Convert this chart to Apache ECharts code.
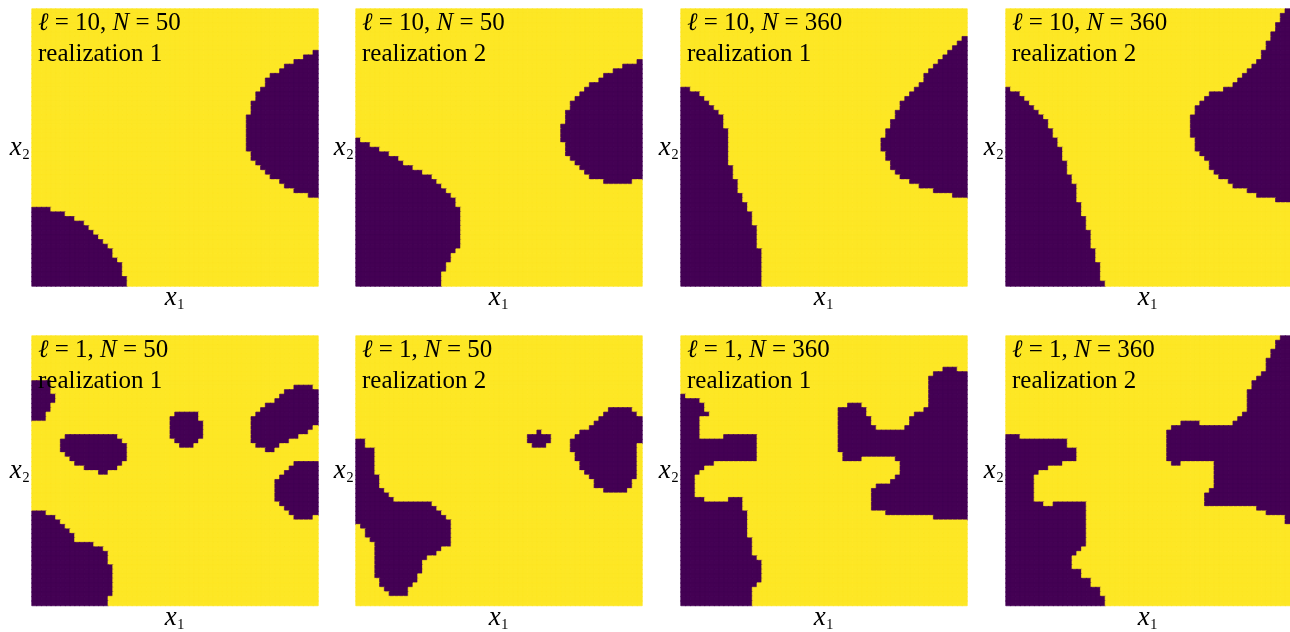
<!DOCTYPE html>
<html><head><meta charset="utf-8">
<script src="https://cdn.jsdelivr.net/npm/echarts@6/dist/echarts.min.js"></script>
<style>html,body{margin:0;padding:0;background:#fff}#c{width:1290px;height:632px}</style>
</head><body><div id="c"></div>
<script>
// ---- data ----
const GRID_N = 60; // cells per side
const cellIndex = Array.from({length: GRID_N}, (_, i) => i);
const lengthScales = [10, 10, 10, 10, 1, 1, 1, 1];
const sampleSizes = [50, 50, 360, 360, 50, 50, 360, 360];
const realizations = [1, 2, 1, 2, 1, 2, 1, 2];
const xLabel = 'x₁';
const yLabel = 'x₂';
const cellColors = ['#FDE725', '#440154']; // value 0 (yellow), value 1 (dark purple)

// each entry: [firstRow, lastRow, "dark column ranges [from-to)"]; rows counted from the top
const fieldA = [[9,9,"59-60"],[10,10,"57-60"],[11,11,"55-60"],[12,12,"53-60"],[13,13,"52-60"],[14,14,"50-60"],[15,16,"49-60"],[17,17,"48-60"],[18,19,"47-60"],[20,22,"46-60"],[23,30,"45-60"],[31,32,"46-60"],[33,33,"47-60"],[34,34,"48-60"],[35,35,"49-60"],[36,36,"50-60"],[37,37,"52-60"],[38,38,"53-60"],[39,39,"55-60"],[40,40,"58-60"],
  [43,43,"0-4"],[44,44,"0-7"],[45,45,"0-9"],[46,46,"0-11"],[47,47,"0-12"],[48,48,"0-13"],[49,49,"0-14"],[50,50,"0-15"],[51,51,"0-16"],[52,53,"0-17"],[54,54,"0-18"],[55,57,"0-19"],[58,59,"0-20"]];
const fieldB = [[11,11,"59-60"],[12,12,"56-60"],[13,13,"54-60"],[14,14,"52-60"],[15,15,"51-60"],[16,16,"49-60"],[17,17,"48-60"],[18,18,"47-60"],[19,19,"46-60"],[20,21,"45-60"],[22,24,"44-60"],[25,27,"43-60"],[28,28,"0-1 43-60"],[29,29,"0-3 44-60"],[30,30,"0-5 44-60"],[31,31,"0-7 44-60"],[32,32,"0-9 45-60"],[33,33,"0-10 46-60"],[34,34,"0-12 47-60"],[35,35,"0-14 48-60"],[36,36,"0-16 49-60"],[37,37,"0-17 52-58"],[38,38,"0-18"],[39,39,"0-19"],[40,40,"0-20"],[41,42,"0-21"],[43,51,"0-22"],[52,52,"0-21"],[53,54,"0-20"],[55,56,"0-19"],[57,59,"0-18"]];
const fieldC = [[6,6,"59-60"],[7,7,"58-60"],[8,8,"57-60"],[9,9,"56-60"],[10,10,"55-60"],[11,11,"54-60"],[12,12,"53-60"],[13,13,"52-60"],[14,15,"51-60"],[16,16,"50-60"],[17,17,"0-2 49-60"],[18,18,"0-4 48-60"],[19,19,"0-5 47-60"],[20,20,"0-6 46-60"],[21,21,"0-7 46-60"],[22,22,"0-8 45-60"],[23,23,"0-9 45-60"],[24,25,"0-9 44-60"],[26,27,"0-10 43-60"],[28,30,"0-10 42-60"],[31,32,"0-10 43-60"],[33,33,"0-10 44-60"],[34,34,"0-11 44-60"],[35,35,"0-11 45-60"],[36,36,"0-11 46-60"],[37,37,"0-12 48-60"],[38,38,"0-12 50-60"],[39,39,"0-12 53-60"],[40,40,"0-13 57-60"],[41,41,"0-13"],[42,43,"0-14"],[44,46,"0-15"],[47,51,"0-16"],[52,59,"0-17"]];
const fieldD = [[0,0,"59-60"],[1,2,"58-60"],[3,4,"57-60"],[5,6,"56-60"],[7,8,"55-60"],[9,10,"54-60"],[11,11,"53-60"],[12,12,"52-60"],[13,13,"51-60"],[14,14,"50-60"],[15,15,"49-60"],[16,16,"48-60"],[17,17,"0-1 46-60"],[18,18,"0-3 43-60"],[19,19,"0-4 42-60"],[20,20,"0-5 41-60"],[21,21,"0-6 40-60"],[22,22,"0-7 40-60"],[23,23,"0-8 39-60"],[24,25,"0-9 39-60"],[26,27,"0-10 39-60"],[28,29,"0-11 40-60"],[30,30,"0-12 40-60"],[31,31,"0-12 41-60"],[32,32,"0-12 42-60"],[33,34,"0-13 43-60"],[35,35,"0-13 44-60"],[36,36,"0-14 45-60"],[37,37,"0-14 47-60"],[38,38,"0-15 48-60"],[39,39,"0-15 51-60"],[40,40,"0-15 53-60"],[41,41,"0-15 57-60"],[42,44,"0-16"],[45,47,"0-17"],[48,51,"0-18"],[52,54,"0-19"],[55,58,"0-20"],[59,59,"0-21"]];
const fieldE = [[10,10,"0-4"],[11,11,"0-4 55-59"],[12,12,"0-4 53-60"],[13,13,"0-5 52-60"],[14,14,"0-5 51-60"],[15,15,"0-4 49-60"],[16,16,"0-4 48-60"],[17,17,"0-3 30-35 47-60"],[18,18,"0-3 29-35 46-60"],[19,19,"29-36 46-60"],[20,20,"29-36 46-59"],[21,21,"29-36 46-58"],[22,22,"7-18 29-36 46-56"],[23,23,"6-19 30-35 46-54"],[24,24,"6-20 31-34 47-52"],[25,25,"6-20 49-51"],[26,26,"7-20"],[27,27,"8-20"],[28,28,"9-19 55-60"],[29,29,"11-18 54-60"],[30,30,"14-16 53-60"],[31,31,"52-60"],[32,36,"51-60"],[37,37,"52-60"],[38,38,"53-60"],[39,39,"0-3 54-60"],[40,40,"0-5 55-59"],[41,41,"0-6"],[42,42,"0-7"],[43,43,"0-8"],[44,45,"0-9"],[46,46,"0-13"],[47,47,"0-15"],[48,50,"0-16"],[51,57,"0-17"],[58,59,"0-16"]];
const fieldF = [[16,16,"53-58"],[17,17,"52-59"],[18,18,"51-60"],[19,19,"50-60"],[20,20,"49-60"],[21,21,"38-39 47-60"],[22,22,"36-41 46-60"],[23,23,"0-2 36-41 45-60"],[24,24,"0-2 37-40 45-59"],[25,25,"0-4 45-59"],[26,27,"0-4 46-59"],[28,29,"0-4 47-59"],[30,30,"0-4 48-59"],[31,31,"0-5 49-59"],[32,33,"0-5 50-58"],[34,34,"0-6 52-57"],[35,35,"0-7"],[36,36,"0-8"],[37,37,"0-16"],[38,38,"0-17"],[39,39,"0-18"],[40,40,"0-19"],[41,41,"0-20"],[42,42,"1-20"],[43,44,"2-20"],[45,45,"3-20"],[46,46,"4-20"],[47,47,"4-18"],[48,48,"4-17"],[49,49,"4-15"],[50,52,"4-14"],[53,53,"4-13"],[54,54,"5-13"],[55,55,"5-12"],[56,56,"6-11"],[57,57,"7-11"]];
const fieldG = [[7,7,"55-58"],[8,8,"53-60"],[9,12,"52-60"],[13,13,"0-1 52-60"],[14,14,"0-4 52-60"],[15,15,"0-5 35-38 52-60"],[16,16,"0-5 33-39 51-60"],[17,17,"0-6 33-39 49-60"],[18,19,"0-4 33-40 48-60"],[20,20,"0-4 33-41 47-60"],[21,21,"0-4 33-60"],[22,22,"0-4 9-16 33-60"],[23,25,"0-16 33-60"],[26,26,"0-16 34-60"],[27,27,"0-16 34-38 45-60"],[28,28,"0-7 46-60"],[29,29,"0-5 46-60"],[30,30,"0-4 46-60"],[31,31,"0-3 45-60"],[32,32,"0-3 44-60"],[33,33,"0-3 41-60"],[34,35,"0-3 40-60"],[36,36,"0-5 10-13 40-60"],[37,38,"0-13 40-60"],[39,39,"0-14 43-60"],[40,40,"0-14 53-60"],[41,44,"0-14"],[45,48,"0-15"],[49,49,"0-16"],[50,54,"0-17"],[55,55,"0-16"],[56,59,"0-15"]];
const fieldH = [[0,0,"58-60"],[1,2,"57-60"],[3,4,"56-60"],[5,7,"55-60"],[8,8,"54-60"],[9,9,"53-60"],[10,11,"52-60"],[12,16,"51-60"],[17,17,"50-60"],[18,18,"49-60"],[19,19,"37-41 48-60"],[20,20,"35-60"],[21,21,"34-60"],[22,22,"0-3 34-60"],[23,24,"0-13 34-60"],[25,27,"0-15 34-60"],[28,28,"0-12 35-37 44-60"],[29,29,"0-9 44-60"],[30,30,"0-7 44-60"],[31,33,"0-6 44-60"],[34,34,"0-6 43-60"],[35,36,"0-6 42-60"],[37,37,"0-8 10-17 42-60"],[38,38,"0-17 53-60"],[39,39,"0-17 55-60"],[40,41,"0-17 59-60"],[42,46,"0-17"],[47,47,"0-16"],[48,48,"0-15"],[49,51,"0-14"],[52,53,"0-16"],[54,55,"0-18"],[56,57,"0-20"],[58,59,"0-21"]];
const fields = [fieldA, fieldB, fieldC, fieldD, fieldE, fieldF, fieldG, fieldH];

// ---- build heatmap cells ----
function expand(spec) {
  const g = cellIndex.map(() => new Array(GRID_N).fill(0));
  spec.forEach(([r0, r1, s]) => {
    s.split(' ').forEach(iv => {
      const [a, b] = iv.split('-').map(Number);
      for (let r = r0; r <= r1; r++) for (let c = a; c < b; c++) g[r][c] = 1;
    });
  });
  const out = [];
  for (let r = 0; r < GRID_N; r++) for (let c = 0; c < GRID_N; c++) {
    const v = g[r][c], col = cellColors[v];
    out.push({value: [c, r, v], itemStyle: {color: col, borderColor: col, borderWidth: 0.7}});
  }
  return out;
}

const SERIF = "'Liberation Serif', 'DejaVu Serif', serif";
const layout = [[32,9],[356,9],[681,9],[1006,9],[32,336],[356,336],[681,336],[1006,336]];
const PW = 286, PH = 277;

const chart = echarts.init(document.getElementById('c'), null, {renderer: 'canvas'});
const labelStyle = {
  fontFamily: SERIF, fontSize: 24, color: '#000', lineHeight: 26,
  rich: {i: {fontFamily: SERIF, fontStyle: 'italic', fontSize: 27, color: '#000', lineHeight: 26}}
};
const option = {
  animation: false,
  backgroundColor: '#ffffff',
  title: layout.map((p, i) => ({
    left: p[0] + 6, top: p[1] - 1, padding: 0,
    text: '{i|ℓ} = ' + lengthScales[i] + ', {i|N} = ' + sampleSizes[i] + '\nrealization ' + realizations[i],
    textStyle: {
      fontFamily: SERIF, fontSize: 25, fontWeight: 'normal', color: '#000', lineHeight: 31,
      rich: {i: {fontFamily: SERIF, fontStyle: 'italic', fontSize: 25, lineHeight: 31, color: '#000'}}
    }
  })),
  grid: layout.map(p => ({left: p[0], top: p[1], width: PW, height: PH, containLabel: false})),
  xAxis: layout.map((p, i) => ({
    gridIndex: i, type: 'category', data: cellIndex, boundaryGap: true,
    axisLine: {show: false}, axisTick: {show: false}, axisLabel: {show: false}, splitLine: {show: false},
    name: '{i|' + xLabel[0] + '}' + xLabel.slice(1), nameLocation: 'middle', nameGap: -1,
    nameTextStyle: labelStyle
  })),
  yAxis: layout.map((p, i) => ({
    gridIndex: i, type: 'category', data: cellIndex, inverse: true, boundaryGap: true,
    axisLine: {show: false}, axisTick: {show: false}, axisLabel: {show: false}, splitLine: {show: false},
    name: '{i|' + yLabel[0] + '}' + yLabel.slice(1), nameLocation: 'middle', nameRotate: 0, nameGap: 2,
    nameTextStyle: labelStyle
  })),
  series: fields.map((f, i) => ({
    type: 'heatmap', xAxisIndex: i, yAxisIndex: i, data: expand(f),
    progressive: 0, emphasis: {disabled: true}, silent: true
  }))
};
chart.setOption(option);
</script></body></html>
